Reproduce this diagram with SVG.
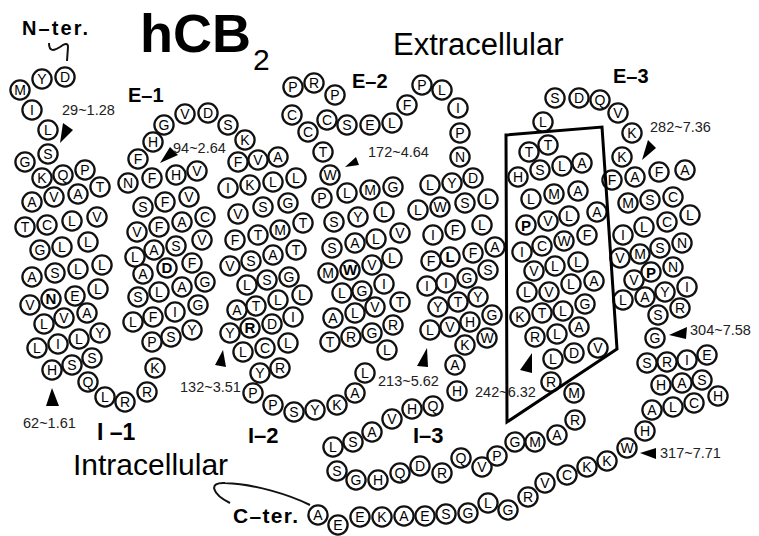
<svg xmlns="http://www.w3.org/2000/svg" width="759" height="536" viewBox="0 0 759 536">
<style>
.r circle{fill:#fff;stroke:#111;stroke-width:2.3}
.r text{font-family:"Liberation Sans",Arial,sans-serif;font-size:14px;text-anchor:middle;fill:#000}
.r.b text{font-weight:bold;font-size:15px}
.lbl{font-family:"Liberation Sans",Arial,sans-serif;font-size:14.5px;fill:#222}
.tt{font-family:"Liberation Sans",Arial,sans-serif;font-weight:bold;fill:#000}
.big{font-family:"Liberation Sans",Arial,sans-serif;fill:#000}
.ar{fill:#000}
.ln{fill:none;stroke:#111;stroke-width:2}
</style>
<rect width="759" height="536" fill="#fff"/>
<text class="tt" x="140" y="52" font-size="54">hCB</text>
<text class="big" x="253" y="70" font-size="30">2</text>
<text class="big" x="393" y="55" font-size="31">Extracellular</text>
<text class="big" x="73" y="475" font-size="30">Intracellular</text>
<text class="tt" x="22" y="35" font-size="20" textLength="66">N–ter.</text>
<text class="tt" x="233" y="523" font-size="21" textLength="65">C–ter.</text>
<text class="tt" x="128" y="102" font-size="20">E–1</text>
<text class="tt" x="352" y="88" font-size="20">E–2</text>
<text class="tt" x="613" y="83" font-size="20">E–3</text>
<text class="tt" x="97" y="440" font-size="23">I –1</text>
<text class="tt" x="248" y="443" font-size="22">I–2</text>
<text class="tt" x="413" y="443" font-size="22">I–3</text>
<g id="connectors">
<path class="ln" d="M49,43 C49,52 54,51 60,47 C64,44 68,42 68,47 L67,61"/>
<path class="ln" d="M230,503 C212,494 208,482 225,483 C255,484 290,495 310,505"/>
</g>
<g id="nterm">
<g id="nt1" class="r" transform="translate(65 77)"><circle r="9.6"/><text y="5">D</text></g>
<g id="nt2" class="r" transform="translate(42 79)"><circle r="9.6"/><text y="5">Y</text></g>
<g id="nt3" class="r" transform="translate(20 90)"><circle r="9.6"/><text y="5">M</text></g>
<g id="nt4" class="r" transform="translate(32 110)"><circle r="9.6"/><text y="5">I</text></g>
<g id="nt5" class="r" transform="translate(48 130)"><circle r="9.6"/><text y="5">L</text></g>
<g id="nt6" class="r" transform="translate(48 154)"><circle r="9.6"/><text y="5">S</text></g>
<g id="nt7" class="r" transform="translate(25 162)"><circle r="9.6"/><text y="5">G</text></g>
</g>
<g id="tm1">
<g id="t1a" class="r" transform="translate(42 178)"><circle r="9.6"/><text y="5">K</text></g>
<g id="t1b" class="r" transform="translate(63 175)"><circle r="9.6"/><text y="5">Q</text></g>
<g id="t1c" class="r" transform="translate(85 170)"><circle r="9.6"/><text y="5">P</text></g>
<g id="t1d" class="r" transform="translate(32 202)"><circle r="9.6"/><text y="5">A</text></g>
<g id="t1e" class="r" transform="translate(54 197)"><circle r="9.6"/><text y="5">V</text></g>
<g id="t1f" class="r" transform="translate(78 194)"><circle r="9.6"/><text y="5">A</text></g>
<g id="t1g" class="r" transform="translate(100 187)"><circle r="9.6"/><text y="5">T</text></g>
<g id="t1h" class="r" transform="translate(25 227)"><circle r="9.6"/><text y="5">T</text></g>
<g id="t1i" class="r" transform="translate(47 225)"><circle r="9.6"/><text y="5">C</text></g>
<g id="t1j" class="r" transform="translate(72 221)"><circle r="9.6"/><text y="5">L</text></g>
<g id="t1k" class="r" transform="translate(97 217)"><circle r="9.6"/><text y="5">V</text></g>
<g id="t1l" class="r" transform="translate(40 250)"><circle r="9.6"/><text y="5">G</text></g>
<g id="t1m" class="r" transform="translate(62 247)"><circle r="9.6"/><text y="5">L</text></g>
<g id="t1n" class="r" transform="translate(88 242)"><circle r="9.6"/><text y="5">L</text></g>
<g id="t1o" class="r" transform="translate(32 277)"><circle r="9.6"/><text y="5">A</text></g>
<g id="t1p" class="r" transform="translate(55 273)"><circle r="9.6"/><text y="5">S</text></g>
<g id="t1q" class="r" transform="translate(78 269)"><circle r="9.6"/><text y="5">L</text></g>
<g id="t1r" class="r" transform="translate(102 265)"><circle r="9.6"/><text y="5">L</text></g>
<g id="t1s" class="r" transform="translate(30 305)"><circle r="9.6"/><text y="5">V</text></g>
<g id="t1t" class="r b" transform="translate(51 299)"><circle r="9.6"/><text y="5.3">N</text></g>
<g id="t1u" class="r" transform="translate(75 296)"><circle r="9.6"/><text y="5">E</text></g>
<g id="t1v" class="r" transform="translate(98 289)"><circle r="9.6"/><text y="5">L</text></g>
<g id="t1w" class="r" transform="translate(44 324)"><circle r="9.6"/><text y="5">L</text></g>
<g id="t1x" class="r" transform="translate(64 318)"><circle r="9.6"/><text y="5">V</text></g>
<g id="t1y" class="r" transform="translate(87 313)"><circle r="9.6"/><text y="5">A</text></g>
<g id="t1z" class="r" transform="translate(37 348)"><circle r="9.6"/><text y="5">L</text></g>
<g id="t1aa" class="r" transform="translate(58 344)"><circle r="9.6"/><text y="5">I</text></g>
<g id="t1ab" class="r" transform="translate(79 339)"><circle r="9.6"/><text y="5">L</text></g>
<g id="t1ac" class="r" transform="translate(100 333)"><circle r="9.6"/><text y="5">Y</text></g>
<g id="t1ad" class="r" transform="translate(52 370)"><circle r="9.6"/><text y="5">H</text></g>
<g id="t1ae" class="r" transform="translate(72 365)"><circle r="9.6"/><text y="5">S</text></g>
<g id="t1af" class="r" transform="translate(92 358)"><circle r="9.6"/><text y="5">S</text></g>
</g>
<g id="i1">
<g id="i1a" class="r" transform="translate(88 382)"><circle r="9.6"/><text y="5">Q</text></g>
<g id="i1b" class="r" transform="translate(105 397)"><circle r="9.6"/><text y="5">L</text></g>
<g id="i1c" class="r" transform="translate(125 402)"><circle r="9.6"/><text y="5">R</text></g>
<g id="i1d" class="r" transform="translate(147 392)"><circle r="9.6"/><text y="5">R</text></g>
<g id="i1e" class="r" transform="translate(155 368)"><circle r="9.6"/><text y="5">K</text></g>
</g>
<g id="tm2">
<g id="t2a" class="r" transform="translate(152 342)"><circle r="9.6"/><text y="5">P</text></g>
<g id="t2b" class="r" transform="translate(171 337)"><circle r="9.6"/><text y="5">S</text></g>
<g id="t2c" class="r" transform="translate(192 330)"><circle r="9.6"/><text y="5">Y</text></g>
<g id="t2d" class="r" transform="translate(133 322)"><circle r="9.6"/><text y="5">L</text></g>
<g id="t2e" class="r" transform="translate(153 317)"><circle r="9.6"/><text y="5">F</text></g>
<g id="t2f" class="r" transform="translate(175 312)"><circle r="9.6"/><text y="5">I</text></g>
<g id="t2g" class="r" transform="translate(198 305)"><circle r="9.6"/><text y="5">G</text></g>
<g id="t2h" class="r" transform="translate(138 297)"><circle r="9.6"/><text y="5">S</text></g>
<g id="t2i" class="r" transform="translate(159 292)"><circle r="9.6"/><text y="5">L</text></g>
<g id="t2j" class="r" transform="translate(182 287)"><circle r="9.6"/><text y="5">A</text></g>
<g id="t2k" class="r" transform="translate(205 282)"><circle r="9.6"/><text y="5">G</text></g>
<g id="t2l" class="r" transform="translate(143 274)"><circle r="9.6"/><text y="5">A</text></g>
<g id="t2m" class="r b" transform="translate(167 268)"><circle r="9.6"/><text y="5.3">D</text></g>
<g id="t2n" class="r" transform="translate(192 263)"><circle r="9.6"/><text y="5">F</text></g>
<g id="t2o" class="r" transform="translate(135 257)"><circle r="9.6"/><text y="5">L</text></g>
<g id="t2p" class="r" transform="translate(154 250)"><circle r="9.6"/><text y="5">A</text></g>
<g id="t2q" class="r" transform="translate(176 246)"><circle r="9.6"/><text y="5">S</text></g>
<g id="t2r" class="r" transform="translate(202 240)"><circle r="9.6"/><text y="5">V</text></g>
<g id="t2s" class="r" transform="translate(137 232)"><circle r="9.6"/><text y="5">V</text></g>
<g id="t2t" class="r" transform="translate(159 227)"><circle r="9.6"/><text y="5">F</text></g>
<g id="t2u" class="r" transform="translate(182 222)"><circle r="9.6"/><text y="5">A</text></g>
<g id="t2v" class="r" transform="translate(205 217)"><circle r="9.6"/><text y="5">C</text></g>
<g id="t2w" class="r" transform="translate(143 207)"><circle r="9.6"/><text y="5">S</text></g>
<g id="t2x" class="r" transform="translate(165 202)"><circle r="9.6"/><text y="5">F</text></g>
<g id="t2y" class="r" transform="translate(189 197)"><circle r="9.6"/><text y="5">V</text></g>
<g id="t2z" class="r" transform="translate(128 183)"><circle r="9.6"/><text y="5">N</text></g>
<g id="t2aa" class="r" transform="translate(152 178)"><circle r="9.6"/><text y="5">F</text></g>
<g id="t2ab" class="r" transform="translate(176 175)"><circle r="9.6"/><text y="5">H</text></g>
<g id="t2ac" class="r" transform="translate(197 171)"><circle r="9.6"/><text y="5">V</text></g>
</g>
<g id="e1">
<g id="e1a" class="r" transform="translate(138 159)"><circle r="9.6"/><text y="5">F</text></g>
<g id="e1b" class="r" transform="translate(153 142)"><circle r="9.6"/><text y="5">H</text></g>
<g id="e1c" class="r" transform="translate(164 125)"><circle r="9.6"/><text y="5">G</text></g>
<g id="e1d" class="r" transform="translate(185 114)"><circle r="9.6"/><text y="5">V</text></g>
<g id="e1e" class="r" transform="translate(208 113)"><circle r="9.6"/><text y="5">D</text></g>
<g id="e1f" class="r" transform="translate(228 125)"><circle r="9.6"/><text y="5">S</text></g>
<g id="e1g" class="r" transform="translate(245 140)"><circle r="9.6"/><text y="5">K</text></g>
</g>
<g id="tm3">
<g id="t3a" class="r" transform="translate(238 162)"><circle r="9.6"/><text y="5">F</text></g>
<g id="t3b" class="r" transform="translate(258 160)"><circle r="9.6"/><text y="5">V</text></g>
<g id="t3c" class="r" transform="translate(278 157)"><circle r="9.6"/><text y="5">A</text></g>
<g id="t3d" class="r" transform="translate(228 188)"><circle r="9.6"/><text y="5">I</text></g>
<g id="t3e" class="r" transform="translate(250 185)"><circle r="9.6"/><text y="5">K</text></g>
<g id="t3f" class="r" transform="translate(273 182)"><circle r="9.6"/><text y="5">L</text></g>
<g id="t3g" class="r" transform="translate(296 178)"><circle r="9.6"/><text y="5">L</text></g>
<g id="t3h" class="r" transform="translate(238 214)"><circle r="9.6"/><text y="5">V</text></g>
<g id="t3i" class="r" transform="translate(263 207)"><circle r="9.6"/><text y="5">S</text></g>
<g id="t3j" class="r" transform="translate(288 203)"><circle r="9.6"/><text y="5">G</text></g>
<g id="t3k" class="r" transform="translate(235 240)"><circle r="9.6"/><text y="5">F</text></g>
<g id="t3l" class="r" transform="translate(258 235)"><circle r="9.6"/><text y="5">T</text></g>
<g id="t3m" class="r" transform="translate(280 230)"><circle r="9.6"/><text y="5">M</text></g>
<g id="t3n" class="r" transform="translate(303 223)"><circle r="9.6"/><text y="5">T</text></g>
<g id="t3o" class="r" transform="translate(230 266)"><circle r="9.6"/><text y="5">V</text></g>
<g id="t3p" class="r" transform="translate(251 261)"><circle r="9.6"/><text y="5">S</text></g>
<g id="t3q" class="r" transform="translate(273 255)"><circle r="9.6"/><text y="5">A</text></g>
<g id="t3r" class="r" transform="translate(296 250)"><circle r="9.6"/><text y="5">T</text></g>
<g id="t3s" class="r" transform="translate(247 285)"><circle r="9.6"/><text y="5">L</text></g>
<g id="t3t" class="r" transform="translate(267 280)"><circle r="9.6"/><text y="5">S</text></g>
<g id="t3u" class="r" transform="translate(289 277)"><circle r="9.6"/><text y="5">G</text></g>
<g id="t3v" class="r" transform="translate(237 310)"><circle r="9.6"/><text y="5">A</text></g>
<g id="t3w" class="r" transform="translate(256 306)"><circle r="9.6"/><text y="5">T</text></g>
<g id="t3x" class="r" transform="translate(278 300)"><circle r="9.6"/><text y="5">L</text></g>
<g id="t3y" class="r" transform="translate(302 295)"><circle r="9.6"/><text y="5">L</text></g>
<g id="t3z" class="r" transform="translate(230 333)"><circle r="9.6"/><text y="5">Y</text></g>
<g id="t3aa" class="r b" transform="translate(250 328)"><circle r="9.6"/><text y="5.3">R</text></g>
<g id="t3ab" class="r" transform="translate(272 324)"><circle r="9.6"/><text y="5">D</text></g>
<g id="t3ac" class="r" transform="translate(293 317)"><circle r="9.6"/><text y="5">I</text></g>
<g id="t3ad" class="r" transform="translate(243 352)"><circle r="9.6"/><text y="5">L</text></g>
<g id="t3ae" class="r" transform="translate(265 348)"><circle r="9.6"/><text y="5">C</text></g>
<g id="t3af" class="r" transform="translate(288 343)"><circle r="9.6"/><text y="5">L</text></g>
<g id="t3ag" class="r" transform="translate(260 373)"><circle r="9.6"/><text y="5">Y</text></g>
<g id="t3ah" class="r" transform="translate(280 368)"><circle r="9.6"/><text y="5">R</text></g>
</g>
<g id="i2">
<g id="i2a" class="r" transform="translate(253 393)"><circle r="9.6"/><text y="5">P</text></g>
<g id="i2b" class="r" transform="translate(273 405)"><circle r="9.6"/><text y="5">P</text></g>
<g id="i2c" class="r" transform="translate(294 412)"><circle r="9.6"/><text y="5">S</text></g>
<g id="i2d" class="r" transform="translate(315 410)"><circle r="9.6"/><text y="5">Y</text></g>
<g id="i2e" class="r" transform="translate(337 405)"><circle r="9.6"/><text y="5">K</text></g>
<g id="i2f" class="r" transform="translate(355 393)"><circle r="9.6"/><text y="5">A</text></g>
<g id="i2g" class="r" transform="translate(365 373)"><circle r="9.6"/><text y="5">L</text></g>
<g id="i2h" class="r" transform="translate(387 350)"><circle r="9.6"/><text y="5">L</text></g>
</g>
<g id="tm4">
<g id="t4a" class="r" transform="translate(330 342)"><circle r="9.6"/><text y="5">T</text></g>
<g id="t4b" class="r" transform="translate(351 337)"><circle r="9.6"/><text y="5">R</text></g>
<g id="t4c" class="r" transform="translate(372 333)"><circle r="9.6"/><text y="5">G</text></g>
<g id="t4d" class="r" transform="translate(393 325)"><circle r="9.6"/><text y="5">R</text></g>
<g id="t4e" class="r" transform="translate(333 318)"><circle r="9.6"/><text y="5">A</text></g>
<g id="t4f" class="r" transform="translate(355 313)"><circle r="9.6"/><text y="5">L</text></g>
<g id="t4g" class="r" transform="translate(375 307)"><circle r="9.6"/><text y="5">V</text></g>
<g id="t4h" class="r" transform="translate(400 302)"><circle r="9.6"/><text y="5">T</text></g>
<g id="t4i" class="r" transform="translate(342 293)"><circle r="9.6"/><text y="5">L</text></g>
<g id="t4j" class="r" transform="translate(362 291)"><circle r="9.6"/><text y="5">G</text></g>
<g id="t4k" class="r" transform="translate(384 284)"><circle r="9.6"/><text y="5">I</text></g>
<g id="t4l" class="r" transform="translate(328 273)"><circle r="9.6"/><text y="5">M</text></g>
<g id="t4m" class="r b" transform="translate(350 270)"><circle r="9.6"/><text y="5.3">W</text></g>
<g id="t4n" class="r" transform="translate(372 265)"><circle r="9.6"/><text y="5">V</text></g>
<g id="t4o" class="r" transform="translate(392 258)"><circle r="9.6"/><text y="5">L</text></g>
<g id="t4p" class="r" transform="translate(332 248)"><circle r="9.6"/><text y="5">S</text></g>
<g id="t4q" class="r" transform="translate(355 243)"><circle r="9.6"/><text y="5">A</text></g>
<g id="t4r" class="r" transform="translate(376 239)"><circle r="9.6"/><text y="5">L</text></g>
<g id="t4s" class="r" transform="translate(400 233)"><circle r="9.6"/><text y="5">V</text></g>
<g id="t4t" class="r" transform="translate(334 222)"><circle r="9.6"/><text y="5">S</text></g>
<g id="t4u" class="r" transform="translate(358 217)"><circle r="9.6"/><text y="5">Y</text></g>
<g id="t4v" class="r" transform="translate(384 212)"><circle r="9.6"/><text y="5">L</text></g>
<g id="t4w" class="r" transform="translate(322 198)"><circle r="9.6"/><text y="5">P</text></g>
<g id="t4x" class="r" transform="translate(347 193)"><circle r="9.6"/><text y="5">L</text></g>
<g id="t4y" class="r" transform="translate(370 190)"><circle r="9.6"/><text y="5">M</text></g>
<g id="t4z" class="r" transform="translate(393 187)"><circle r="9.6"/><text y="5">G</text></g>
<g id="t4aa" class="r" transform="translate(330 175)"><circle r="9.6"/><text y="5">W</text></g>
</g>
<g id="e2">
<g id="e2a" class="r" transform="translate(323 152)"><circle r="9.6"/><text y="5">T</text></g>
<g id="e2b" class="r" transform="translate(308 132)"><circle r="9.6"/><text y="5">C</text></g>
<g id="e2c" class="r" transform="translate(292 115)"><circle r="9.6"/><text y="5">C</text></g>
<g id="e2d" class="r" transform="translate(293 87)"><circle r="9.6"/><text y="5">P</text></g>
<g id="e2e" class="r" transform="translate(314 83)"><circle r="9.6"/><text y="5">R</text></g>
<g id="e2f" class="r" transform="translate(335 95)"><circle r="9.6"/><text y="5">P</text></g>
<g id="e2g" class="r" transform="translate(327 120)"><circle r="9.6"/><text y="5">C</text></g>
<g id="e2h" class="r" transform="translate(347 125)"><circle r="9.6"/><text y="5">S</text></g>
<g id="e2i" class="r" transform="translate(370 125)"><circle r="9.6"/><text y="5">E</text></g>
<g id="e2j" class="r" transform="translate(392 123)"><circle r="9.6"/><text y="5">L</text></g>
<g id="e2k" class="r" transform="translate(407 105)"><circle r="9.6"/><text y="5">F</text></g>
<g id="e2l" class="r" transform="translate(422 85)"><circle r="9.6"/><text y="5">P</text></g>
<g id="e2m" class="r" transform="translate(442 90)"><circle r="9.6"/><text y="5">L</text></g>
<g id="e2n" class="r" transform="translate(458 108)"><circle r="9.6"/><text y="5">I</text></g>
<g id="e2o" class="r" transform="translate(460 133)"><circle r="9.6"/><text y="5">P</text></g>
<g id="e2p" class="r" transform="translate(460 157)"><circle r="9.6"/><text y="5">N</text></g>
</g>
<g id="tm5">
<g id="t5a" class="r" transform="translate(473 178)"><circle r="9.6"/><text y="5">D</text></g>
<g id="t5b" class="r" transform="translate(452 183)"><circle r="9.6"/><text y="5">Y</text></g>
<g id="t5c" class="r" transform="translate(430 185)"><circle r="9.6"/><text y="5">L</text></g>
<g id="t5d" class="r" transform="translate(418 210)"><circle r="9.6"/><text y="5">L</text></g>
<g id="t5e" class="r" transform="translate(440 207)"><circle r="9.6"/><text y="5">W</text></g>
<g id="t5f" class="r" transform="translate(465 203)"><circle r="9.6"/><text y="5">S</text></g>
<g id="t5g" class="r" transform="translate(488 199)"><circle r="9.6"/><text y="5">L</text></g>
<g id="t5h" class="r" transform="translate(433 235)"><circle r="9.6"/><text y="5">I</text></g>
<g id="t5i" class="r" transform="translate(455 230)"><circle r="9.6"/><text y="5">F</text></g>
<g id="t5j" class="r" transform="translate(482 225)"><circle r="9.6"/><text y="5">L</text></g>
<g id="t5k" class="r" transform="translate(431 261)"><circle r="9.6"/><text y="5">F</text></g>
<g id="t5l" class="r b" transform="translate(450 257)"><circle r="9.6"/><text y="5.3">L</text></g>
<g id="t5m" class="r" transform="translate(473 253)"><circle r="9.6"/><text y="5">F</text></g>
<g id="t5n" class="r" transform="translate(495 247)"><circle r="9.6"/><text y="5">A</text></g>
<g id="t5o" class="r" transform="translate(427 286)"><circle r="9.6"/><text y="5">I</text></g>
<g id="t5p" class="r" transform="translate(446 283)"><circle r="9.6"/><text y="5">I</text></g>
<g id="t5q" class="r" transform="translate(467 278)"><circle r="9.6"/><text y="5">G</text></g>
<g id="t5r" class="r" transform="translate(488 270)"><circle r="9.6"/><text y="5">S</text></g>
<g id="t5s" class="r" transform="translate(438 307)"><circle r="9.6"/><text y="5">Y</text></g>
<g id="t5t" class="r" transform="translate(458 302)"><circle r="9.6"/><text y="5">T</text></g>
<g id="t5u" class="r" transform="translate(478 297)"><circle r="9.6"/><text y="5">Y</text></g>
<g id="t5v" class="r" transform="translate(430 330)"><circle r="9.6"/><text y="5">L</text></g>
<g id="t5w" class="r" transform="translate(450 327)"><circle r="9.6"/><text y="5">V</text></g>
<g id="t5x" class="r" transform="translate(470 322)"><circle r="9.6"/><text y="5">H</text></g>
<g id="t5y" class="r" transform="translate(492 315)"><circle r="9.6"/><text y="5">G</text></g>
<g id="t5z" class="r" transform="translate(465 345)"><circle r="9.6"/><text y="5">K</text></g>
<g id="t5aa" class="r" transform="translate(487 338)"><circle r="9.6"/><text y="5">W</text></g>
<g id="t5ab" class="r" transform="translate(455 365)"><circle r="9.6"/><text y="5">A</text></g>
</g>
<g id="i3">
<g id="i3a" class="r" transform="translate(457 391)"><circle r="9.6"/><text y="5">H</text></g>
<g id="i3b" class="r" transform="translate(433 406)"><circle r="9.6"/><text y="5">Q</text></g>
<g id="i3c" class="r" transform="translate(412 409)"><circle r="9.6"/><text y="5">H</text></g>
<g id="i3d" class="r" transform="translate(392 419)"><circle r="9.6"/><text y="5">V</text></g>
<g id="i3e" class="r" transform="translate(372 432)"><circle r="9.6"/><text y="5">A</text></g>
<g id="i3f" class="r" transform="translate(353 442)"><circle r="9.6"/><text y="5">S</text></g>
<g id="i3g" class="r" transform="translate(333 447)"><circle r="9.6"/><text y="5">L</text></g>
<g id="i3h" class="r" transform="translate(337 471)"><circle r="9.6"/><text y="5">S</text></g>
<g id="i3i" class="r" transform="translate(356 480)"><circle r="9.6"/><text y="5">G</text></g>
<g id="i3j" class="r" transform="translate(378 480)"><circle r="9.6"/><text y="5">H</text></g>
<g id="i3k" class="r" transform="translate(400 473)"><circle r="9.6"/><text y="5">Q</text></g>
<g id="i3l" class="r" transform="translate(420 466)"><circle r="9.6"/><text y="5">D</text></g>
<g id="i3m" class="r" transform="translate(442 473)"><circle r="9.6"/><text y="5">R</text></g>
<g id="i3n" class="r" transform="translate(461 458)"><circle r="9.6"/><text y="5">Q</text></g>
<g id="i3o" class="r" transform="translate(482 467)"><circle r="9.6"/><text y="5">V</text></g>
<g id="i3p" class="r" transform="translate(497 456)"><circle r="9.6"/><text y="5">P</text></g>
<g id="i3q" class="r" transform="translate(515 442)"><circle r="9.6"/><text y="5">G</text></g>
<g id="i3r" class="r" transform="translate(535 442)"><circle r="9.6"/><text y="5">M</text></g>
<g id="i3s" class="r" transform="translate(557 435)"><circle r="9.6"/><text y="5">A</text></g>
<g id="i3t" class="r" transform="translate(575 420)"><circle r="9.6"/><text y="5">R</text></g>
<g id="i3u" class="r" transform="translate(574 393)"><circle r="9.6"/><text y="5">M</text></g>
<g id="i3v" class="r" transform="translate(551 382)"><circle r="9.6"/><text y="5">R</text></g>
</g>
<g id="tm6">
<g id="t6a" class="r" transform="translate(553 359)"><circle r="9.6"/><text y="5">L</text></g>
<g id="t6b" class="r" transform="translate(574 353)"><circle r="9.6"/><text y="5">D</text></g>
<g id="t6c" class="r" transform="translate(598 348)"><circle r="9.6"/><text y="5">V</text></g>
<g id="t6d" class="r" transform="translate(535 337)"><circle r="9.6"/><text y="5">R</text></g>
<g id="t6e" class="r" transform="translate(557 334)"><circle r="9.6"/><text y="5">L</text></g>
<g id="t6f" class="r" transform="translate(579 327)"><circle r="9.6"/><text y="5">A</text></g>
<g id="t6g" class="r" transform="translate(520 317)"><circle r="9.6"/><text y="5">K</text></g>
<g id="t6h" class="r" transform="translate(542 313)"><circle r="9.6"/><text y="5">T</text></g>
<g id="t6i" class="r" transform="translate(563 311)"><circle r="9.6"/><text y="5">L</text></g>
<g id="t6j" class="r" transform="translate(585 304)"><circle r="9.6"/><text y="5">G</text></g>
<g id="t6k" class="r" transform="translate(527 292)"><circle r="9.6"/><text y="5">L</text></g>
<g id="t6l" class="r" transform="translate(549 292)"><circle r="9.6"/><text y="5">V</text></g>
<g id="t6m" class="r" transform="translate(571 284)"><circle r="9.6"/><text y="5">L</text></g>
<g id="t6n" class="r" transform="translate(594 281)"><circle r="9.6"/><text y="5">A</text></g>
<g id="t6o" class="r" transform="translate(534 271)"><circle r="9.6"/><text y="5">V</text></g>
<g id="t6p" class="r" transform="translate(555 266)"><circle r="9.6"/><text y="5">L</text></g>
<g id="t6q" class="r" transform="translate(578 262)"><circle r="9.6"/><text y="5">L</text></g>
<g id="t6r" class="r" transform="translate(522 252)"><circle r="9.6"/><text y="5">I</text></g>
<g id="t6s" class="r" transform="translate(542 246)"><circle r="9.6"/><text y="5">C</text></g>
<g id="t6t" class="r" transform="translate(564 241)"><circle r="9.6"/><text y="5">W</text></g>
<g id="t6u" class="r" transform="translate(587 235)"><circle r="9.6"/><text y="5">F</text></g>
<g id="t6v" class="r b" transform="translate(526 225)"><circle r="9.6"/><text y="5.8" font-size="17">P</text></g>
<g id="t6w" class="r" transform="translate(548 221)"><circle r="9.6"/><text y="5">V</text></g>
<g id="t6x" class="r" transform="translate(569 216)"><circle r="9.6"/><text y="5">L</text></g>
<g id="t6y" class="r" transform="translate(597 212)"><circle r="9.6"/><text y="5">A</text></g>
<g id="t6z" class="r" transform="translate(531 199)"><circle r="9.6"/><text y="5">L</text></g>
<g id="t6aa" class="r" transform="translate(554 194)"><circle r="9.6"/><text y="5">M</text></g>
<g id="t6ab" class="r" transform="translate(578 191)"><circle r="9.6"/><text y="5">A</text></g>
<g id="t6ac" class="r" transform="translate(518 177)"><circle r="9.6"/><text y="5">H</text></g>
<g id="t6ad" class="r" transform="translate(540 170)"><circle r="9.6"/><text y="5">S</text></g>
<g id="t6ae" class="r" transform="translate(562 166)"><circle r="9.6"/><text y="5">L</text></g>
<g id="t6af" class="r" transform="translate(582 163)"><circle r="9.6"/><text y="5">A</text></g>
<g id="t6ag" class="r" transform="translate(529 152)"><circle r="9.6"/><text y="5">T</text></g>
<g id="t6ah" class="r" transform="translate(548 145)"><circle r="9.6"/><text y="5">T</text></g>
</g>
<g id="e3">
<g id="e3a" class="r" transform="translate(543 122)"><circle r="9.6"/><text y="5">L</text></g>
<g id="e3b" class="r" transform="translate(555 98)"><circle r="9.6"/><text y="5">S</text></g>
<g id="e3c" class="r" transform="translate(579 98)"><circle r="9.6"/><text y="5">D</text></g>
<g id="e3d" class="r" transform="translate(600 100)"><circle r="9.6"/><text y="5">Q</text></g>
<g id="e3e" class="r" transform="translate(618 113)"><circle r="9.6"/><text y="5">V</text></g>
<g id="e3f" class="r" transform="translate(632 133)"><circle r="9.6"/><text y="5">K</text></g>
</g>
<g id="tm7">
<g id="t7a" class="r" transform="translate(622 157)"><circle r="9.6"/><text y="5">K</text></g>
<g id="t7b" class="r" transform="translate(612 180)"><circle r="9.6"/><text y="5">F</text></g>
<g id="t7c" class="r" transform="translate(635 177)"><circle r="9.6"/><text y="5">A</text></g>
<g id="t7d" class="r" transform="translate(659 172)"><circle r="9.6"/><text y="5">F</text></g>
<g id="t7e" class="r" transform="translate(685 170)"><circle r="9.6"/><text y="5">A</text></g>
<g id="t7f" class="r" transform="translate(628 203)"><circle r="9.6"/><text y="5">M</text></g>
<g id="t7g" class="r" transform="translate(650 200)"><circle r="9.6"/><text y="5">S</text></g>
<g id="t7h" class="r" transform="translate(673 197)"><circle r="9.6"/><text y="5">C</text></g>
<g id="t7i" class="r" transform="translate(623 235)"><circle r="9.6"/><text y="5">I</text></g>
<g id="t7j" class="r" transform="translate(644 227)"><circle r="9.6"/><text y="5">L</text></g>
<g id="t7k" class="r" transform="translate(667 222)"><circle r="9.6"/><text y="5">C</text></g>
<g id="t7l" class="r" transform="translate(690 215)"><circle r="9.6"/><text y="5">L</text></g>
<g id="t7m" class="r" transform="translate(620 258)"><circle r="9.6"/><text y="5">V</text></g>
<g id="t7n" class="r" transform="translate(640 254)"><circle r="9.6"/><text y="5">M</text></g>
<g id="t7o" class="r" transform="translate(660 248)"><circle r="9.6"/><text y="5">S</text></g>
<g id="t7p" class="r" transform="translate(682 243)"><circle r="9.6"/><text y="5">N</text></g>
<g id="t7q" class="r" transform="translate(634 280)"><circle r="9.6"/><text y="5">V</text></g>
<g id="t7r" class="r b" transform="translate(651 272)"><circle r="9.6"/><text y="5.8" font-size="17">P</text></g>
<g id="t7s" class="r" transform="translate(673 267)"><circle r="9.6"/><text y="5">N</text></g>
<g id="t7t" class="r" transform="translate(623 300)"><circle r="9.6"/><text y="5">L</text></g>
<g id="t7u" class="r" transform="translate(645 297)"><circle r="9.6"/><text y="5">A</text></g>
<g id="t7v" class="r" transform="translate(665 292)"><circle r="9.6"/><text y="5">Y</text></g>
<g id="t7w" class="r" transform="translate(687 287)"><circle r="9.6"/><text y="5">I</text></g>
<g id="t7x" class="r" transform="translate(658 315)"><circle r="9.6"/><text y="5">S</text></g>
<g id="t7y" class="r" transform="translate(680 308)"><circle r="9.6"/><text y="5">R</text></g>
<g id="t7z" class="r" transform="translate(655 338)"><circle r="9.6"/><text y="5">G</text></g>
</g>
<g id="cterm">
<g id="ct1" class="r" transform="translate(647 363)"><circle r="9.6"/><text y="5">S</text></g>
<g id="ct2" class="r" transform="translate(667 362)"><circle r="9.6"/><text y="5">R</text></g>
<g id="ct3" class="r" transform="translate(687 360)"><circle r="9.6"/><text y="5">I</text></g>
<g id="ct4" class="r" transform="translate(707 355)"><circle r="9.6"/><text y="5">E</text></g>
<g id="ct5" class="r" transform="translate(661 385)"><circle r="9.6"/><text y="5">H</text></g>
<g id="ct6" class="r" transform="translate(682 383)"><circle r="9.6"/><text y="5">A</text></g>
<g id="ct7" class="r" transform="translate(702 380)"><circle r="9.6"/><text y="5">S</text></g>
<g id="ct8" class="r" transform="translate(718 396)"><circle r="9.6"/><text y="5">H</text></g>
<g id="ct9" class="r" transform="translate(694 403)"><circle r="9.6"/><text y="5">C</text></g>
<g id="ct10" class="r" transform="translate(673 407)"><circle r="9.6"/><text y="5">L</text></g>
<g id="ct11" class="r" transform="translate(652 410)"><circle r="9.6"/><text y="5">A</text></g>
<g id="ct12" class="r" transform="translate(645 431)"><circle r="9.6"/><text y="5">H</text></g>
<g id="ct13" class="r" transform="translate(627 448)"><circle r="9.6"/><text y="5">W</text></g>
<g id="ct14" class="r" transform="translate(607 461)"><circle r="9.6"/><text y="5">K</text></g>
<g id="ct15" class="r" transform="translate(587 467)"><circle r="9.6"/><text y="5">K</text></g>
<g id="ct16" class="r" transform="translate(567 475)"><circle r="9.6"/><text y="5">C</text></g>
<g id="ct17" class="r" transform="translate(545 483)"><circle r="9.6"/><text y="5">V</text></g>
<g id="ct18" class="r" transform="translate(528 497)"><circle r="9.6"/><text y="5">R</text></g>
<g id="ct19" class="r" transform="translate(508 510)"><circle r="9.6"/><text y="5">G</text></g>
<g id="ct20" class="r" transform="translate(488 503)"><circle r="9.6"/><text y="5">L</text></g>
<g id="ct21" class="r" transform="translate(468 513)"><circle r="9.6"/><text y="5">G</text></g>
<g id="ct22" class="r" transform="translate(446 514)"><circle r="9.6"/><text y="5">S</text></g>
<g id="ct23" class="r" transform="translate(425 516)"><circle r="9.6"/><text y="5">E</text></g>
<g id="ct24" class="r" transform="translate(404 516)"><circle r="9.6"/><text y="5">A</text></g>
<g id="ct25" class="r" transform="translate(382 517)"><circle r="9.6"/><text y="5">K</text></g>
<g id="ct26" class="r" transform="translate(360 517)"><circle r="9.6"/><text y="5">E</text></g>
<g id="ct27" class="r" transform="translate(338 525)"><circle r="9.6"/><text y="5">E</text></g>
<g id="ct28" class="r" transform="translate(318 515)"><circle r="9.6"/><text y="5">A</text></g>
</g>
<g id="box">
<polygon points="506,135 602,127 617,349 507,422" fill="none" stroke="#000" stroke-width="3"/>
</g>
<g id="markers">
<polygon class="ar" points="63,123 73,130 60,143"/>
<polygon class="ar" points="170,147 178,155 160,163"/>
<polygon class="ar" points="356,157 359,165 345,167"/>
<polygon class="ar" points="648,140 656,148 642,160"/>
<polygon class="ar" points="687,327 686,339 669,335"/>
<polygon class="ar" points="656,448 656,459 640,453"/>
<polygon class="ar" points="52,388 46,406 59,406"/>
<polygon class="ar" points="223,350 215,365 226,367"/>
<polygon class="ar" points="427,348 417,366 428,367"/>
<polygon class="ar" points="532,353 520,370 532,373"/>
<text class="lbl" x="62" y="115">29~1.28</text>
<text class="lbl" x="173" y="153">94~2.64</text>
<text class="lbl" x="368" y="157">172~4.64</text>
<text class="lbl" x="650" y="132">282~7.36</text>
<text class="lbl" x="690" y="335">304~7.58</text>
<text class="lbl" x="660" y="458">317~7.71</text>
<text class="lbl" x="23" y="428">62~1.61</text>
<text class="lbl" x="180" y="392">132~3.51</text>
<text class="lbl" x="378" y="386">213~5.62</text>
<text class="lbl" x="475" y="397">242~6.32</text>
</g>
</svg>
